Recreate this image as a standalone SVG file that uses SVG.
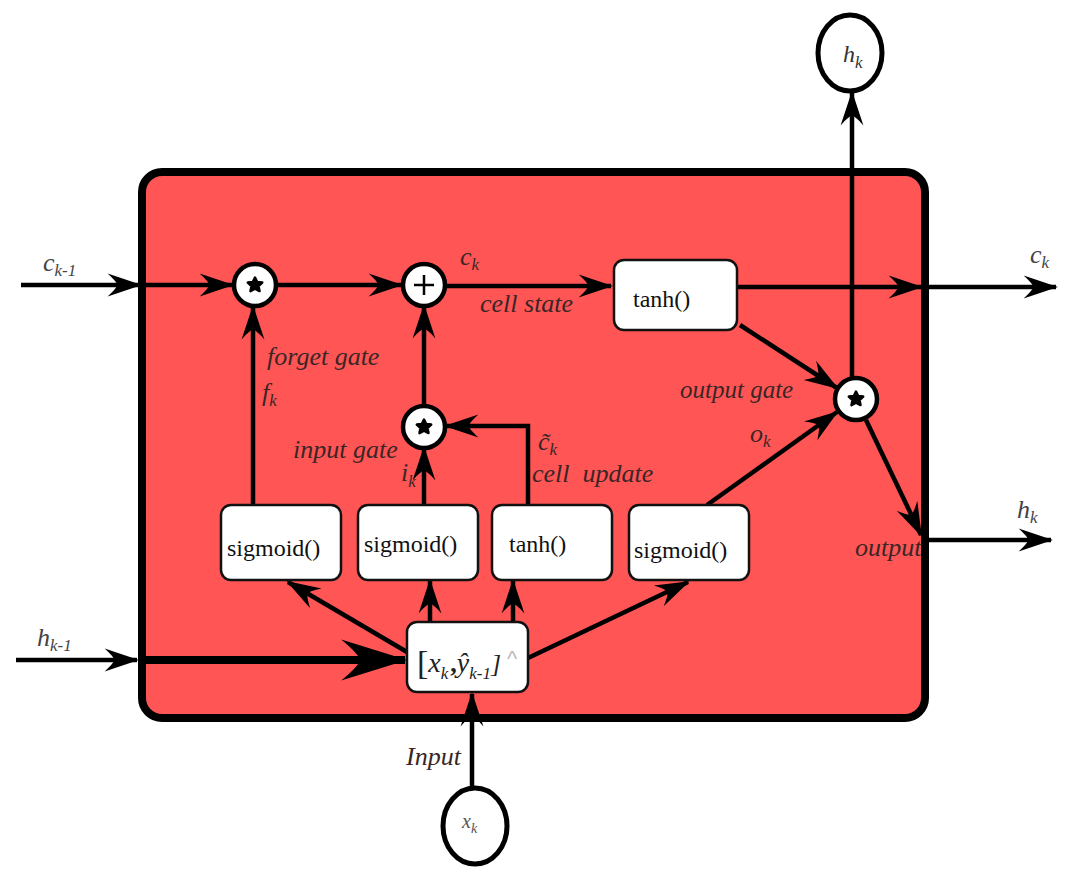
<svg xmlns="http://www.w3.org/2000/svg" width="1074" height="884" viewBox="0 0 1074 884">
<style>
.lbl{font-family:"Liberation Serif",serif;font-style:italic;font-size:26px;fill:#3a2626}
.sub{font-size:17px}
.box{fill:#fff;stroke:#111;stroke-width:2.5}
.btxt{font-family:"Liberation Serif",serif;font-size:24px;fill:#111}
.ln{stroke:#000;stroke-width:4.5;fill:none}
.circ{fill:#fff;stroke:#000;stroke-width:4.5}
</style>
<defs>
<marker id="arr" markerUnits="userSpaceOnUse" markerWidth="40" markerHeight="30" viewBox="-40 -15 42 30" refX="0" refY="0" orient="auto" overflow="visible">
<path d="M2,0 L-34,-12 Q-24,-3 -24,0 Q-24,3 -34,12 Z" fill="#000"/>
</marker>
<marker id="big" markerUnits="userSpaceOnUse" markerWidth="70" markerHeight="50" viewBox="-66 -24 68 48" refX="0" refY="0" orient="auto" overflow="visible">
<path d="M2,0 L-62,-20 Q-44,-5 -44,0 Q-44,5 -62,20 Z" fill="#000"/>
</marker>
<path id="star" d="M0,-7.5 L2.2,-3 L7.2,-2.4 L3.5,1.1 L4.5,6.1 L0,3.7 L-4.5,6.1 L-3.5,1.1 L-7.2,-2.4 L-2.2,-3 Z" fill="#000" stroke="#000" stroke-width="2.5" stroke-linejoin="round"/>
</defs>
<rect width="1074" height="884" fill="#fff"/>

<g id="cell">
<rect x="142" y="172" width="783" height="546" rx="20" fill="#FF5555" stroke="#000" stroke-width="8"/>
</g>

<g id="connectors">
<line class="ln" x1="21" y1="285" x2="140" y2="285" marker-end="url(#arr)"/>
<line class="ln" x1="142" y1="285" x2="232" y2="285" marker-end="url(#arr)"/>
<line class="ln" x1="277" y1="285" x2="401" y2="285" marker-end="url(#arr)"/>
<line class="ln" x1="445" y1="286" x2="611" y2="286" marker-end="url(#arr)"/>
<line class="ln" x1="737" y1="287" x2="921" y2="287" marker-end="url(#arr)"/>
<line class="ln" x1="928" y1="287" x2="1056" y2="287" marker-end="url(#arr)"/>
<line class="ln" x1="740" y1="325" x2="837" y2="388" marker-end="url(#arr)"/>
<line class="ln" x1="852" y1="378" x2="852" y2="93" marker-end="url(#arr)"/>
<line class="ln" x1="866" y1="420" x2="921" y2="535" marker-end="url(#arr)"/>
<line class="ln" x1="928" y1="540" x2="1051" y2="540" marker-end="url(#arr)"/>
<line class="ln" x1="253" y1="505" x2="253" y2="307" marker-end="url(#arr)"/>
<line class="ln" x1="424" y1="505" x2="424" y2="448" marker-end="url(#arr)"/>
<line class="ln" x1="424" y1="405" x2="424" y2="306" marker-end="url(#arr)"/>
<polyline class="ln" points="528,505 528,426 446,426" marker-end="url(#arr)"/>
<line class="ln" x1="707" y1="505" x2="837" y2="412" marker-end="url(#arr)"/>
<line class="ln" x1="16" y1="660" x2="137" y2="660" marker-end="url(#arr)"/>
<line stroke="#000" stroke-width="8" x1="146" y1="660" x2="405" y2="660" marker-end="url(#big)"/>
<line class="ln" x1="407" y1="652" x2="288" y2="582" marker-end="url(#arr)"/>
<line class="ln" x1="430" y1="622" x2="430" y2="581" marker-end="url(#arr)"/>
<line class="ln" x1="513" y1="622" x2="513" y2="581" marker-end="url(#arr)"/>
<line class="ln" x1="528" y1="658" x2="688" y2="582" marker-end="url(#arr)"/>
<line class="ln" x1="472" y1="790" x2="472" y2="694" marker-end="url(#arr)"/>
</g>

<g id="mult-forget"><circle class="circ" cx="255" cy="285" r="21"/><use href="#star" x="255" y="285"/></g>
<g id="plus"><circle class="circ" cx="424" cy="285" r="21"/><path d="M424,275 V295 M414,285 H434" stroke="#000" stroke-width="2.5"/></g>
<g id="mult-input"><circle class="circ" cx="424" cy="427" r="21"/><use href="#star" x="424" y="427"/></g>
<g id="mult-output"><circle class="circ" cx="856" cy="399" r="21"/><use href="#star" x="856" y="399"/></g>

<g id="tanh-top"><rect class="box" x="614" y="260" width="123" height="70" rx="10"/><text class="btxt" x="633" y="307">tanh()</text></g>
<g id="sigmoid-forget"><rect class="box" x="221" y="505" width="120" height="75" rx="10"/><text class="btxt" x="227" y="556">sigmoid()</text></g>
<g id="sigmoid-input"><rect class="box" x="358" y="505" width="120" height="75" rx="10"/><text class="btxt" x="364" y="552">sigmoid()</text></g>
<g id="tanh-update"><rect class="box" x="492" y="505" width="120" height="75" rx="10"/><text class="btxt" x="509" y="552">tanh()</text></g>
<g id="sigmoid-output"><rect class="box" x="629" y="505" width="120" height="75" rx="10"/><text class="btxt" x="634" y="558">sigmoid()</text></g>

<g id="concat">
<rect class="box" x="407" y="622" width="121" height="70" rx="10"/>
<text x="417" y="674" font-family="Liberation Serif,serif" font-size="34" fill="#222">[<tspan font-style="italic" font-size="28" dy="-2">x</tspan><tspan font-style="italic" font-size="17" dy="7">k</tspan><tspan font-weight="bold" font-size="26" dy="-7" dx="2">,</tspan><tspan font-style="italic" font-size="28">y&#770;</tspan><tspan font-style="italic" font-size="17" dy="7">k-1</tspan><tspan font-style="italic" font-size="26" dy="-7">]</tspan></text>
<text x="507" y="666" font-family="Liberation Sans,sans-serif" font-size="22" fill="#bbb">^</text>
</g>

<g id="out-hk"><ellipse cx="850" cy="53" rx="32" ry="38" fill="#fff" stroke="#000" stroke-width="5"/><text class="lbl" x="843" y="62" style="font-size:24px;fill:#333">h<tspan class="sub" dy="6">k</tspan></text></g>
<g id="in-xk"><ellipse cx="475" cy="826" rx="32" ry="38" fill="#fff" stroke="#000" stroke-width="5"/><text class="lbl" x="462" y="828" style="font-size:20px;fill:#555">x<tspan class="sub" dy="5" style="font-size:14px">k</tspan></text></g>

<g id="labels">
<text class="lbl" x="43" y="271" style="fill:#444">c<tspan class="sub" dy="5">k-1</tspan></text>
<text class="lbl" x="460" y="265">c<tspan class="sub" dy="5">k</tspan></text>
<text class="lbl" x="480" y="312">cell state</text>
<text class="lbl" x="267" y="365">forget gate</text>
<text class="lbl" x="262" y="401">f<tspan class="sub" dy="5">k</tspan></text>
<text class="lbl" x="293" y="458">input gate</text>
<text class="lbl" x="401" y="481">i<tspan class="sub" dy="6">k</tspan></text>
<text class="lbl" x="538" y="450">c&#771;<tspan class="sub" dy="5">k</tspan></text>
<text class="lbl" x="532" y="482" style="white-space:pre">cell  update</text>
<text class="lbl" x="680" y="398" style="font-size:25px">output gate</text>
<text class="lbl" x="750" y="442">o<tspan class="sub" dy="5">k</tspan></text>
<text class="lbl" x="855" y="556">output</text>
<text class="lbl" x="1030" y="263" style="fill:#444">c<tspan class="sub" dy="5">k</tspan></text>
<text class="lbl" x="1017" y="518" style="fill:#444">h<tspan class="sub" dy="5">k</tspan></text>
<text class="lbl" x="37" y="646" style="fill:#444">h<tspan class="sub" dy="5">k-1</tspan></text>
<text class="lbl" x="406" y="765">Input</text>
</g>
</svg>
